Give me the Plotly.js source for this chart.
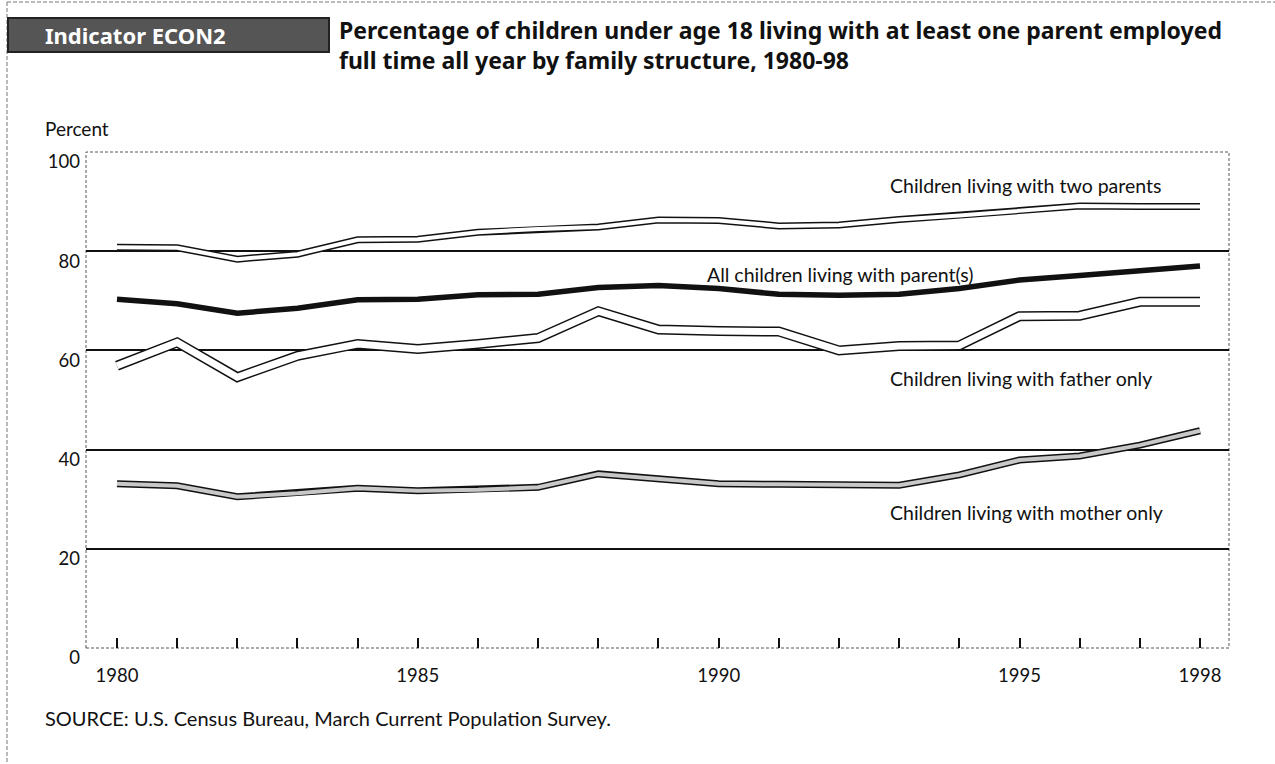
<!DOCTYPE html>
<html>
<head>
<meta charset="utf-8">
<script src="https://cdn.plot.ly/plotly-3.0.1.min.js"></script>
<style>
  html, body { margin: 0; padding: 0; background: #ffffff; }
  #chart { width: 1275px; height: 764px; }
</style>
</head>
<body>
<div id="chart"></div>
<script>
// ---- data ----
const years = [1980, 1981, 1982, 1983, 1984, 1985, 1986, 1987, 1988, 1989,
               1990, 1991, 1992, 1993, 1994, 1995, 1996, 1997, 1998];
const labelYears = [1980, 1985, 1990, 1995, 1998];
const twoParents  = [80.8, 80.7, 78.4, 79.4, 82.3, 82.4, 83.8, 84.5, 84.9, 86.3,
                     86.2, 85.1, 85.3, 86.4, 87.2, 88.2, 89.1, 89.0, 89.0];
const allChildren = [70.3, 69.4, 67.5, 68.5, 70.2, 70.3, 71.2, 71.3, 72.7, 73.1,
                     72.5, 71.3, 71.1, 71.3, 72.5, 74.2, 75.1, 76.1, 77.0];
const fatherOnly  = [56.9, 61.6, 54.6, 58.9, 61.3, 60.3, 61.3, 62.5, 67.9, 64.2,
                     63.9, 63.8, 60.0, 60.9, 61.0, 66.9, 67.0, 69.8, 69.8];
const motherOnly  = [33.1, 32.7, 30.5, 31.2, 32.2, 31.7, 31.9, 32.4, 35.1, 34.0,
                     33.1, 33.0, 32.8, 32.8, 34.9, 37.9, 38.7, 40.9, 43.8];
const yTicks = [0, 20, 40, 60, 80, 100];
const gridTicks = [20, 40, 60, 80];
const seriesLabels = {
  two: "Children living with two parents",
  all: "All children living with parent(s)",
  father: "Children living with father only",
  mother: "Children living with mother only"
};
const titleText = "Percentage of children under age 18 living with at least one parent employed<br>full time all year by family structure, 1980-98";
const indicatorText = "Indicator ECON2";
const yLabel = "Percent";
const sourceText = "SOURCE: U.S. Census Bureau, March Current Population Survey.";

// ---- layout helpers (pixel -> paper) ----
const W = 1275, H = 764;
const M = { l: 86, r: 46, t: 152, b: 116 };
const PW = W - M.l - M.r, PH = H - M.t - M.b;
const px = x => (x - M.l) / PW;
const py = y => (H - M.b - y) / PH;

const FONT = "Lato, 'Open Sans', sans-serif";
const BOLD = "'Noto Sans', 'Open Sans', sans-serif";
const INK = "#111111";

function line(y, color, width) {
  return { x: years, y: y, type: "scatter", mode: "lines",
           line: { color: color, width: width, shape: "linear" },
           hoverinfo: "skip", showlegend: false };
}

const traces = [
  line(motherOnly, INK, 7),
  line(motherOnly, "#c8c8c8", 4),
  line(fatherOnly, INK, 10),
  line(fatherOnly, "#ffffff", 7),
  line(twoParents, INK, 7),
  line(twoParents, "#ffffff", 4),
  line(allChildren, INK, 5.5)
];
// invisible trace to activate the grid axis
traces.push({ x: [years[0]], y: [gridTicks[0]], yaxis: "y2", type: "scatter",
              mode: "markers", marker: { opacity: 0 }, hoverinfo: "skip", showlegend: false });

const layout = {
  width: W, height: H,
  margin: M,
  paper_bgcolor: "#ffffff",
  plot_bgcolor: "#ffffff",
  font: { family: FONT, color: INK, size: 19 },
  title: {
    text: titleText,
    font: { family: BOLD, size: 23, color: INK, weight: "bold" },
    xref: "container", yref: "container",
    x: 339 / W, xanchor: "left",
    y: 1 - 39 / H, yanchor: "middle"
  },
  xaxis: {
    range: [1979.485, 1998.482],
    tickvals: years,
    ticktext: years.map(v => labelYears.includes(v) ? String(v) : ""),
    ticks: "inside", ticklen: 10, tickwidth: 2, tickcolor: INK,
    showgrid: false, zeroline: false, showline: false,
    tickfont: { family: FONT, size: 18.5, color: INK },
    ticklabelstandoff: 14,
    fixedrange: true
  },
  yaxis: {
    range: [0, 100],
    tickvals: yTicks,
    ticks: "", showgrid: false, zeroline: false, showline: false,
    tickfont: { family: FONT, size: 18.5, color: INK },
    ticklabelshift: 10,
    ticklabelstandoff: 5,
    fixedrange: true
  },
  yaxis2: {
    range: [0, 100], overlaying: "y",
    tickvals: gridTicks, showticklabels: false, ticks: "",
    showgrid: true, gridcolor: INK, gridwidth: 2,
    zeroline: false, showline: false, fixedrange: true
  },
  shapes: [
    { type: "rect", xref: "paper", yref: "paper", x0: 0, x1: 1, y0: 0, y1: 1,
      line: { color: "#555555", width: 1, dash: "3px,2px" }, layer: "below" },
    { type: "line", xref: "paper", yref: "paper", x0: px(7), x1: px(7), y0: py(2), y1: py(764),
      line: { color: "#777777", width: 1, dash: "4px,2px" } },
    { type: "line", xref: "paper", yref: "paper", x0: px(7), x1: px(1275), y0: py(2), y1: py(2),
      line: { color: "#777777", width: 1, dash: "4px,2px" } },
    { type: "rect", xref: "paper", yref: "paper", x0: px(8), x1: px(329), y0: py(52), y1: py(18),
      fillcolor: "#555555", line: { color: "#222222", width: 2 } }
  ],
  annotations: [
    { text: indicatorText, xref: "paper", yref: "paper", x: px(43), y: py(35),
      xanchor: "left", yanchor: "middle", showarrow: false,
      font: { family: "'Noto Sans', sans-serif", size: 22, color: "#ffffff", weight: "bold" } },
    { text: yLabel, xref: "paper", yref: "paper", x: px(43), y: py(128),
      xanchor: "left", yanchor: "middle", showarrow: false,
      font: { family: FONT, size: 19, color: INK } },
    { text: sourceText, xref: "paper", yref: "paper", x: px(43), y: py(718),
      xanchor: "left", yanchor: "middle", showarrow: false,
      font: { family: FONT, size: 20, color: INK } },
    { text: seriesLabels.two, xref: "x", yref: "y", x: 1992.81, y: 93.3,
      xanchor: "left", yanchor: "middle", showarrow: false,
      font: { family: FONT, size: 19.5, color: INK } },
    { text: seriesLabels.all, xref: "x", yref: "y", x: 1989.77, y: 75.4,
      xanchor: "left", yanchor: "middle", showarrow: false,
      font: { family: FONT, size: 19.5, color: INK } },
    { text: seriesLabels.father, xref: "x", yref: "y", x: 1992.81, y: 54.4,
      xanchor: "left", yanchor: "middle", showarrow: false,
      font: { family: FONT, size: 19.5, color: INK } },
    { text: seriesLabels.mother, xref: "x", yref: "y", x: 1992.81, y: 27.4,
      xanchor: "left", yanchor: "middle", showarrow: false,
      font: { family: FONT, size: 19.5, color: INK } }
  ]
};

Plotly.newPlot("chart", traces, layout, { staticPlot: true, displayModeBar: false });
</script>
</body>
</html>
